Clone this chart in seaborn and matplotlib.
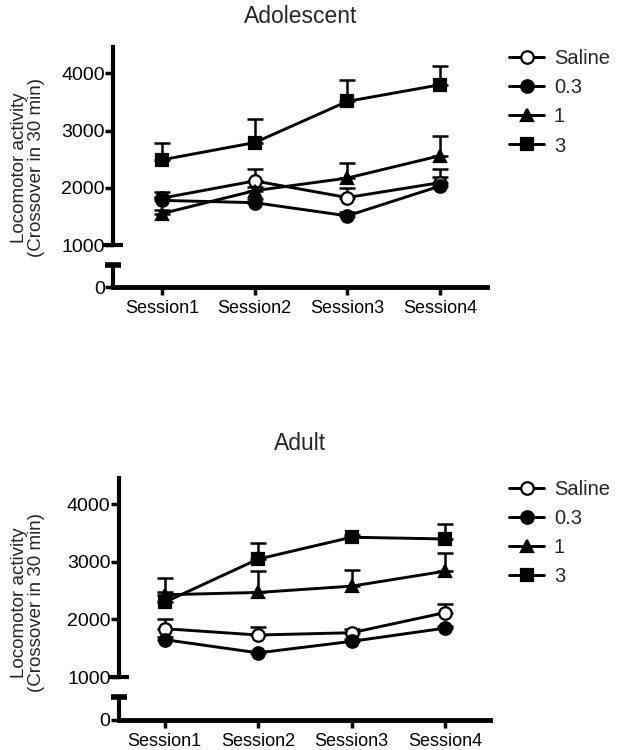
import numpy as np
import pandas as pd
import seaborn as sns
import matplotlib.pyplot as plt

sessions = ["Session1", "Session2", "Session3", "Session4"]
doses = ["Saline", "0.3", "1", "3"]

# Adolescent means / SEM
adol_saline = [1820, 2120, 1830, 2090]
adol_saline_err = [100, 200, 160, 230]
adol_03 = [1780, 1740, 1510, 2030]
adol_03_err = [60, 60, 60, 160]
adol_1 = [1550, 1950, 2170, 2560]
adol_1_err = [60, 60, 270, 340]
adol_3 = [2490, 2790, 3510, 3800]
adol_3_err = [300, 410, 380, 320]

# Adult means / SEM
adult_saline = [1840, 1730, 1770, 2120]
adult_saline_err = [160, 140, 60, 150]
adult_03 = [1650, 1420, 1620, 1850]
adult_03_err = [40, 40, 40, 40]
adult_1 = [2430, 2470, 2580, 2840]
adult_1_err = [40, 370, 280, 320]
adult_3 = [2300, 3050, 3430, 3400]
adult_3_err = [430, 280, 40, 260]

markers = {"Saline": "o", "0.3": "o", "1": "^", "3": "s"}
facecolors = {"Saline": "white", "0.3": "black", "1": "black", "3": "black"}

sns.set_theme(style="ticks")
plt.rcParams["font.family"] = ["Liberation Sans", "DejaVu Sans"]

fig = plt.figure(figsize=(6.19, 7.5), dpi=100)


def make_df(means, errs):
    rows = []
    for dose, m, e in zip(doses, means, errs):
        for i, s in enumerate(sessions):
            rows.append({"dose": dose, "x": i, "session": s, "mean": m[i], "sem": e[i]})
    return pd.DataFrame(rows)


def draw_panel(df, up_rect, low_rect, xlim, title, title_y, ylab_y, leg_y):
    ax = fig.add_axes(up_rect)
    axl = fig.add_axes(low_rect)

    for dose in doses:
        d = df[df["dose"] == dose]
        ax.errorbar(d["x"], d["mean"], yerr=[np.zeros(len(d)), d["sem"]],
                    fmt="none", ecolor="black", elinewidth=1.8, capsize=6,
                    capthick=1.8, zorder=2)
        sns.lineplot(data=d, x="x", y="mean", ax=ax, color="black", linewidth=2.1,
                     marker=markers[dose], markersize=9, markerfacecolor=facecolors[dose],
                     markeredgecolor="black", markeredgewidth=1.6, label=dose, zorder=3)

    handles, labels = ax.get_legend_handles_labels()
    ax.get_legend().remove()

    ax.set_xlim(*xlim)
    ax.set_ylim(1000, 4460)
    ax.set_yticks([1000, 2000, 3000, 4000])
    ax.set_xticks([])
    ax.set_xlabel("")
    ax.set_ylabel("")
    for sp in ["top", "right", "bottom"]:
        ax.spines[sp].set_visible(False)
    ax.spines["left"].set_linewidth(3)
    ax.spines["left"].set_color("black")
    ax.tick_params(axis="y", width=2.5, length=6, labelsize=14, pad=0, colors="black")
    ax.plot([0], [1000], marker="_", markersize=14, mew=3, color="black",
            transform=ax.get_yaxis_transform(), clip_on=False)
    ax.patch.set_alpha(0)

    axl.set_xlim(*xlim)
    axl.set_ylim(0, 390)
    axl.set_yticks([0])
    axl.set_xticks(range(len(sessions)))
    axl.set_xticklabels(sessions)
    for sp in ["top", "right"]:
        axl.spines[sp].set_visible(False)
    axl.spines["left"].set_linewidth(3)
    axl.spines["bottom"].set_linewidth(3.5)
    axl.spines["left"].set_color("black")
    axl.spines["bottom"].set_color("black")
    axl.tick_params(axis="y", width=2.5, length=6, labelsize=14, pad=0, colors="black")
    axl.tick_params(axis="x", width=2.5, length=6, labelsize=13, pad=3, colors="black")
    axl.plot([0], [1], marker="_", markersize=12, mew=4, color="black",
             transform=axl.transAxes, clip_on=False)
    axl.patch.set_alpha(0)

    fig.text(0.485, title_y, title, ha="center", va="center", fontsize=16.5)
    fig.text(0.045, ylab_y, "Locomotor activity\n(Crossover in 30 min)", rotation=90,
             ha="center", va="center", multialignment="center", fontsize=13.5,
             linespacing=1.0)
    fig.legend(handles, labels, loc="upper left", bbox_to_anchor=(0.81, leg_y),
               frameon=False, fontsize=14.5, handlelength=1.7, handletextpad=0.5,
               labelspacing=0.5, borderaxespad=0)


adol = make_df([adol_saline, adol_03, adol_1, adol_3],
               [adol_saline_err, adol_03_err, adol_1_err, adol_3_err])
adult = make_df([adult_saline, adult_03, adult_1, adult_3],
                [adult_saline_err, adult_03_err, adult_1_err, adult_3_err])

draw_panel(adol, [0.1826, 0.6733, 0.6044, 0.264], [0.1826, 0.6173, 0.6044, 0.0293],
           (-0.53, 3.51), "Adolescent", 0.978, 0.777, 0.945)
draw_panel(adult, [0.192, 0.0973, 0.5996, 0.2654], [0.192, 0.04, 0.5996, 0.0307],
           (-0.49, 3.48), "Adult", 0.409, 0.196, 0.371)

fig.savefig("out.png", dpi=100)
